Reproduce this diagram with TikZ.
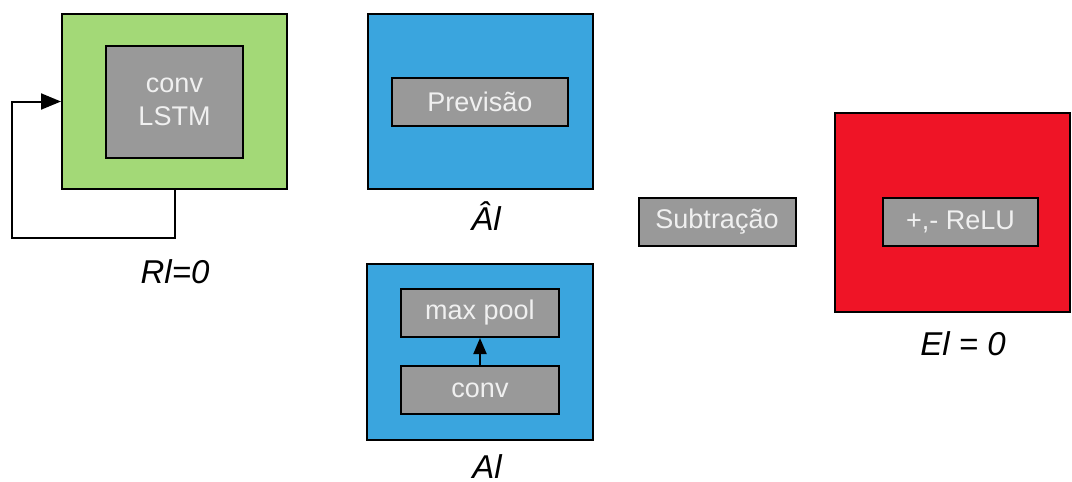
\documentclass[tikz,border=0pt]{standalone}
\usepackage{fontspec}
\setmainfont{Liberation Sans}
\usetikzlibrary{arrows.meta}
\definecolor{layergreen}{RGB}{163,217,119}
\definecolor{layerblue}{RGB}{58,165,222}
\definecolor{layerred}{RGB}{239,20,38}
\definecolor{opgray}{RGB}{153,153,153}
\definecolor{optext}{RGB}{240,240,240}
\tikzset{
  layer/.style={draw=black, line width=2pt, minimum width=225pt, minimum height=175pt, inner sep=0pt},
  opbox/.style={draw=black, line width=2pt, fill=opgray, text=optext, inner sep=0pt,
    minimum height=48pt, font=\fontsize{27}{33}\selectfont, align=center},
  caption/.style={anchor=base, inner sep=0pt, font=\fontsize{33}{36}\selectfont\itshape},
  flow/.style={draw=black, line width=2pt, -{Triangle[length=20pt,width=16pt]}},
  smallflow/.style={draw=black, line width=2pt, -{Triangle[length=16pt,width=13pt]}}
}
\begin{document}
\begin{tikzpicture}[x=1pt,y=-1pt]
\useasboundingbox (0,0) rectangle (1072,482);

% recurrent layer R
\node[layer, fill=layergreen] (green) at (174.5,101.5) {};
\node[opbox, minimum width=137pt, minimum height=112pt] (lstm) at (174.5,102) {conv\\LSTM};
\coordinate (loopB) at (12,238);
\draw[flow] (green.south) |- (loopB) |- (green.west);
\node[caption] (rlabel) at (175,283) {Rl=0};

% prediction layer
\node[layer, fill=layerblue] (predict) at (480,101.5) {};
\node[opbox, minimum width=176pt] (previsao) at (480,102) {Previsão};
\node[caption] (ahatlabel) at (486,230) {Âl};

% input layer A
\node[layer, fill=layerblue, minimum width=226pt, minimum height=176pt] (input) at (480,352) {};
\node[opbox, minimum width=158pt] (maxpool) at (480,313) {max pool};
\node[opbox, minimum width=158pt] (conv) at (480,390) {conv};
\draw[smallflow] (conv.north) -- (maxpool.south);
\node[caption] (alabel) at (487,478) {Al};

% subtraction
\node[opbox, minimum width=157pt] (sub) at (717,222) {Subtração};

% error layer E
\node[layer, fill=layerred, minimum width=235pt, minimum height=199pt] (err) at (952.5,212.5) {};
\node[opbox, minimum width=155pt] (relu) at (960.5,222) {+,- ReLU};
\node[caption] (elabel) at (963,355) {El = 0};
\end{tikzpicture}
\end{document}
